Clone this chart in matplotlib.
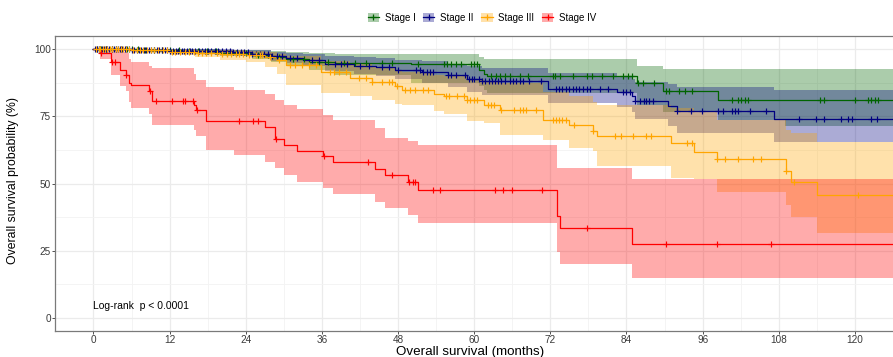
import numpy as np
import matplotlib
matplotlib.use("Agg")
import matplotlib.pyplot as plt
from matplotlib.patches import Patch
from matplotlib.lines import Line2D

plt.rcParams['font.family'] = ['Liberation Sans', 'DejaVu Sans']

# ---------------- data ----------------
stages = ["Stage I", "Stage II", "Stage III", "Stage IV"]
line_colors = ["#006400", "#000080", "#FFA500", "#FF0000"]
end_time = 130

# Stage I
t1 = [0, 8, 14, 20, 25, 28, 30.4, 34, 38, 50, 60.7, 61.5, 62, 85.6, 89.7, 98.5, 109]
s1 = [100, 99.7, 99.3, 98.8, 98.0, 97.3, 96.6, 95.4, 94.8, 94.4, 92.5, 91.0, 90.0, 87.5, 84.4, 81.3, 81.3]
u1 = [100, 100, 100, 99.9, 99.6, 99.3, 99.0, 98.6, 98.4, 98.3, 97.0, 96.5, 96.3, 93.8, 92.8, 92.8, 92.8]
l1 = [100, 99.2, 98.6, 97.6, 96.3, 95.3, 94.3, 92.5, 90.5, 87.5, 86.5, 85.0, 83.8, 79.4, 76.5, 73.8, 71.3]
c1 = [0.5, 1.2, 2.0, 2.9, 3.6, 4.4, 5.3, 6.1, 7.0, 8.2, 9.5, 10.8, 12.0, 13.5, 15.0, 16.4, 17.9,
      19.3, 21.0, 22.5, 24.1, 26.0, 27.5, 29.3, 31.5, 33.2, 35.5, 37.0, 39.5, 41.2, 43.0, 45.5,
      47.0, 51.1, 55.3, 55.7, 56.4, 57.1, 57.9, 59.5, 59.9, 60.4, 62.6, 63.4, 64.1, 64.9, 65.7,
      67.2, 68.5, 72.4, 72.8, 73.6, 75.5, 77.8, 78.6, 80.1, 81.9, 83.5, 84.3, 84.8, 85.8, 86.6,
      88.4, 90.2, 90.7, 92.2, 93.3, 94.4, 100.6, 101.6, 102.1, 102.6, 103.2, 114.5, 115.1, 120.0,
      122.0, 122.6, 123.1, 123.6]

# Stage II
t2 = [0, 6, 12, 18, 22, 25, 28, 30.4, 33, 36.5, 41, 44.5, 47.5, 51.7, 55.8, 58.9, 61.2, 71.6,
      82.5, 84.8, 85.3, 90.5, 92, 107.3]
s2 = [100, 99.8, 99.5, 99.3, 99.0, 98.4, 97.5, 96.8, 96.0, 94.6, 93.8, 93.3, 92.5, 91.5, 90.3,
      89.0, 88.1, 85.3, 84.0, 82.5, 80.7, 78.8, 76.9, 74.2]
u2 = [100, 100, 100, 100, 99.9, 99.6, 99.2, 98.8, 98.4, 97.6, 97.0, 96.7, 96.2, 95.5, 94.7,
      93.9, 93.0, 91.3, 90.0, 89.0, 88.0, 87.0, 86.0, 84.8]
l2 = [100, 99.4, 98.9, 98.5, 98.0, 97.1, 95.8, 94.8, 93.7, 91.8, 90.7, 90.0, 88.9, 87.6, 86.0,
      84.3, 83.0, 80.0, 78.5, 76.5, 74.0, 71.5, 68.8, 65.4]
c2 = [0.3, 0.6, 0.8, 1.1, 1.3, 1.6, 1.9, 2.2, 2.5, 2.9, 3.2, 3.5, 3.8, 4.2, 4.5, 4.9, 5.2, 5.6,
      6.0, 6.4, 6.8, 7.1, 7.5, 7.9, 8.3, 8.7, 9.1, 9.6, 10.0, 10.4, 10.8, 11.2, 11.6, 12.0, 12.5,
      13.0, 13.4, 13.9, 14.3, 14.8, 15.2, 15.6, 16.0, 16.6, 17.1, 17.5, 18.0, 18.6, 19.2, 19.7,
      20.3, 20.9, 21.5, 22.0, 22.6, 23.2, 23.8, 24.4, 25.0, 25.6, 26.3, 26.9, 27.5, 28.2, 29.0,
      29.7, 31.0, 32.0, 34.5, 35.5, 38.0, 39.0, 40.0, 42.0, 43.5, 45.5, 46.5, 48.0, 50.9, 51.4,
      51.9, 52.5, 53.0, 53.5, 55.8, 56.3, 57.1, 58.6, 59.2, 59.7, 59.9, 60.7, 61.2, 61.7, 62.3,
      62.8, 63.3, 63.8, 64.3, 64.8, 65.6, 66.1, 66.6, 67.2, 67.7, 68.7, 70.5, 72.9, 73.4, 73.9,
      74.4, 74.9, 75.5, 76.0, 76.5, 77.1, 77.7, 78.2, 79.8, 81.1, 83.5, 84.0, 84.5, 85.3, 86.1,
      86.7, 87.1, 87.6, 88.2, 92.0, 94.1, 95.9, 98.5, 99.2, 100.6, 101.1, 101.6, 103.4, 106.0,
      111.2, 113.8, 115.2, 117.8, 118.9, 119.5, 122.5, 123.4]

# Stage III
t3 = [0, 6, 12, 16, 20, 24, 27, 28.9, 30.4, 35.9, 40.5, 43.9, 47.5, 48.6, 53.7, 55.3, 58.9,
      61.5, 64.1, 70.8, 74.9, 78.8, 79.3, 91.0, 94.6, 98.2, 109.1, 110.0, 114.0]
s3 = [100, 99.6, 99.2, 98.8, 98.3, 97.8, 97.0, 96.0, 94.1, 91.5, 89.5, 88.0, 86.3, 84.8, 83.5,
      82.5, 81.0, 79.4, 77.3, 73.8, 71.7, 69.4, 67.6, 65.1, 61.7, 59.1, 54.7, 50.7, 45.8]
u3 = [100, 100, 99.9, 99.8, 99.6, 99.3, 98.9, 98.4, 97.5, 95.8, 94.5, 93.5, 92.3, 91.5, 90.6,
      90.0, 89.0, 88.2, 87.5, 84.0, 82.5, 80.5, 79.4, 78.0, 76.5, 73.8, 70.0, 68.8, 65.5]
l3 = [100, 98.8, 97.8, 97.0, 96.2, 95.2, 93.5, 91.0, 86.8, 83.8, 82.5, 81.3, 79.8, 79.4, 76.9,
      76.0, 73.2, 72.6, 68.2, 66.3, 63.2, 62.0, 56.5, 52.0, 51.6, 47.0, 42.0, 37.6, 31.7]
c3 = [0.4, 0.8, 1.1, 1.5, 1.8, 2.2, 2.6, 3.0, 3.5, 3.9, 4.3, 4.7, 5.1, 5.6, 6.2, 6.8, 7.3, 7.8,
      8.4, 9.0, 9.6, 10.2, 10.9, 11.6, 12.3, 12.9, 13.6, 14.4, 15.1, 15.8, 16.5, 17.1, 17.8,
      18.6, 19.4, 20.2, 21.0, 21.7, 22.4, 23.0, 23.5, 24.5, 25.6, 26.3, 26.6, 27.9, 29.2, 31.0,
      31.8, 32.8, 33.9, 35.0, 37.2, 37.9, 38.7, 39.8, 41.8, 42.9, 43.9, 45.5, 46.5, 47.0, 47.8,
      49.1, 49.9, 50.6, 52.0, 52.7, 55.5, 56.0, 57.3, 58.4, 58.9, 59.4, 59.9, 60.4, 62.2, 62.7,
      63.2, 64.3, 66.2, 67.2, 67.7, 68.2, 69.8, 72.4, 72.9, 73.4, 73.9, 74.4, 75.7, 78.8, 82.2,
      83.2, 85.0, 87.1, 87.9, 93.6, 94.4, 98.3, 99.5, 101.6, 103.9, 105.2, 109.1, 110.4, 120.5]

# Stage IV
t4 = [0, 1.0, 2.7, 4.2, 5.1, 5.6, 5.9, 8.7, 9.2, 15.9, 16.2, 17.7, 22.2, 27.0, 28.6, 30.1, 32.0,
      36.1, 37.8, 44.3, 46.0, 49.6, 51.1, 73.1, 73.6, 84.8]
s4 = [100, 98.8, 95.4, 92.5, 90.6, 87.5, 86.6, 84.4, 80.9, 79.4, 77.3, 73.4, 73.4, 71.1, 66.7,
      64.5, 62.3, 60.1, 58.0, 55.5, 53.2, 50.5, 47.6, 38.0, 33.3, 27.4]
u4 = [100, 100, 100, 99.2, 98.5, 96.5, 95.4, 94.0, 92.9, 91.0, 88.5, 86.0, 84.8, 83.2, 81.3,
      79.4, 77.6, 75.7, 73.8, 70.7, 67.0, 65.8, 64.5, 55.7, 55.7, 51.6]
l4 = [100, 96.5, 90.5, 86.5, 84.5, 80.5, 78.2, 76.0, 71.9, 70.0, 67.6, 62.6, 60.7, 58.2, 55.7,
      53.2, 50.5, 48.3, 46.0, 43.2, 40.8, 38.3, 35.2, 24.5, 19.9, 14.8]
c4 = [1.2, 3.0, 3.4, 5.1, 8.9, 9.9, 12.3, 14.1, 14.5, 15.7, 16.3, 22.9, 25.2, 26.0, 28.7, 36.4,
      43.3, 47.0, 49.8, 50.4, 50.7, 53.5, 54.6, 63.3, 64.5, 66.0, 70.7, 77.7, 90.2, 98.3, 106.8]

x_ticks = [0, 12, 24, 36, 48, 60, 72, 84, 96, 108, 120]
y_ticks = [0, 25, 50, 75, 100]

series = [(t1, s1, u1, l1, c1), (t2, s2, u2, l2, c2), (t3, s3, u3, l3, c3), (t4, s4, u4, l4, c4)]

# ---------------- figure ----------------
W, H = 893, 357
fig = plt.figure(figsize=(W / 100, H / 100), dpi=100)
ax_left, ax_right, ax_top, ax_bot = 55, 893, 36, 331
ax = fig.add_axes([ax_left / W, 1 - ax_bot / H, (ax_right - ax_left) / W, (ax_bot - ax_top) / H])

ax.set_xlim(-6.06, 124.1)
ax.set_ylim(-5, 105)

ax.set_xticks(x_ticks)
ax.set_yticks(y_ticks)
ax.set_xticks(np.arange(-6, 130, 12), minor=True)
ax.set_yticks([12.5, 37.5, 62.5, 87.5], minor=True)
ax.grid(True, which='major', color='#EBEBEB', lw=0.9, zorder=0)
ax.grid(True, which='minor', color='#F3F3F3', lw=0.6, zorder=0)
ax.set_axisbelow(True)
ax.tick_params(which='major', direction='out', length=2, width=0.6, color='#333333',
               labelsize=7.2, labelcolor='#3A3A3A', pad=1)
ax.tick_params(which='minor', length=0)
for side in ['left', 'top', 'bottom']:
    ax.spines[side].set_color('#7A7A7A')
    ax.spines[side].set_linewidth(0.9)
ax.spines['right'].set_visible(False)


def extend(t, v):
    return list(t) + [end_time], list(v) + [v[-1]]


def step_value(t, s, x):
    idx = np.searchsorted(np.asarray(t), x, side='right') - 1
    return np.asarray(s)[idx]


alpha = 0.33
for (t, s, u, l, c), col in zip(series, line_colors):
    tx, ux = extend(t, u)
    _, lx = extend(t, l)
    ax.fill_between(tx, lx, ux, step='post', color=col, alpha=alpha, lw=0, zorder=2)

for (t, s, u, l, c), col in zip(series, line_colors):
    tx, sx = extend(t, s)
    ax.step(tx, sx, where='post', color=col, lw=0.9, zorder=4)
    cy = step_value(t, s, np.asarray(c))
    ax.plot(c, cy, ls='none', marker='+', ms=5, mew=0.85, color=col, zorder=5)

ax.text(0, 4.5, "Log-rank  p < 0.0001", ha='left', va='center', fontsize=7.5, color='black', zorder=6)

fig.text(13.3 / W, 1 - 181 / H, "Overall survival probability (%)", rotation=90,
         ha='center', va='center', fontsize=8.8)
fig.text(470 / W, 1 - 355 / H, "Overall survival (months)", ha='center', va='baseline', fontsize=9.6)

handles = []
for col in line_colors:
    handles.append((Patch(facecolor=col, alpha=alpha, edgecolor='none'),
                    Line2D([], [], color=col, marker='+', lw=0.9, ms=5, mew=0.9)))
fig.legend(handles, stages, loc='center', bbox_to_anchor=(482 / W, 1 - 18 / H), ncol=4,
           frameon=False, fontsize=7, handlelength=1.15, handleheight=1.1, handletextpad=0.6,
           columnspacing=0.8, borderpad=0)

fig.savefig("out.png", dpi=100)
